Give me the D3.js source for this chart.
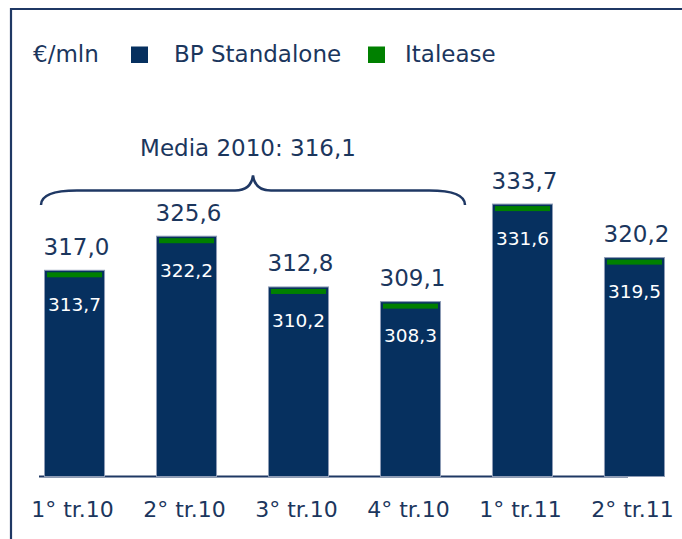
<!DOCTYPE html>
<html>
<head>
  <meta charset='utf-8' />
  <title>BP Standalone vs Italease</title>
  <style>
    html, body { margin: 0; padding: 0; background: #fff; }
    body { font-family: 'DejaVu Sans', Verdana, sans-serif; }
    svg text { fill: #1b365d; }
  </style>
</head>
<body>
<svg id="chart" width="682" height="539"></svg>

<script src="https://d3js.org/d3.v7.min.js"></script>
<script>
  // quarters on the x axis
  const quarters = ['1° tr.10', '2° tr.10', '3° tr.10', '4° tr.10', '1° tr.11', '2° tr.11']
  // total (BP Standalone + Italease), €/mln
  const totals = [317.0, 325.6, 312.8, 309.1, 333.7, 320.2]
  // BP Standalone only
  const standalone = [313.7, 322.2, 310.2, 308.3, 331.6, 319.5]
  const seriesNames = ['BP Standalone', 'Italease']
  const unitLabel = '€/mln'
  const mediaLabel = 'Media 2010'
  const mediaCount = 4 // first four quarters = 2010

  const navy = '#06305f'
  const green = '#008000'
  const ink = '#1b365d'

  const it = d3.formatLocale({ decimal: ',', thousands: '.', grouping: [3], currency: ['€', ''] })
  const fmt = it.format('.1f')

  const rows = quarters.map((q, i) => ({ q, total: totals[i], bp: standalone[i], ita: totals[i] - standalone[i] }))

  const svg = d3.select('#chart')

  // frame (top and left edge only, like the slide)
  svg.append('path')
    .attr('d', 'M11,539 V9 H682')
    .attr('fill', 'none')
    .attr('stroke', '#1f3864')
    .attr('stroke-width', 2.2)

  const baseY = 476
  const x = d3.scaleBand()
    .domain(quarters)
    .range([44, 665])
    .paddingInner(0.455)
    .paddingOuter(0)

  const y = d3.scaleLinear()
    .domain([265, 340])
    .range([baseY, 178.6])

  // baseline
  svg.append('line')
    .attr('x1', 39).attr('x2', 628)
    .attr('y1', baseY + 0.5).attr('y2', baseY + 0.5)
    .attr('stroke', '#1f3864')
    .attr('stroke-width', 2)

  const bw = x.bandwidth()

  const bars = svg.append('g').selectAll('g')
    .data(rows)
    .join('g')

  bars.append('rect')
    .attr('x', d => x(d.q) + 0.5)
    .attr('y', d => y(d.total) + 0.5)
    .attr('width', bw - 1)
    .attr('height', d => baseY - y(d.total))
    .attr('fill', navy)
    .attr('stroke', '#8d9bb5')
    .attr('stroke-width', 1)

  // Italease strip on top of each bar
  bars.append('rect')
    .attr('x', d => x(d.q) + 3)
    .attr('y', d => y(d.total) + 2.5)
    .attr('width', bw - 6)
    .attr('height', 5)
    .attr('fill', green)

  // totals above
  bars.append('text')
    .attr('x', d => x(d.q) + bw / 2 + 2)
    .attr('y', d => y(d.total) - 15)
    .attr('text-anchor', 'middle')
    .style('font-size', '23px')
    .text(d => fmt(d.total))

  // standalone inside
  bars.append('text')
    .attr('x', d => x(d.q) + bw / 2)
    .attr('y', d => y(d.total) + 41)
    .attr('text-anchor', 'middle')
    .style('font-size', '18.5px')
    .style('fill', '#fff')
    .text(d => fmt(d.bp))

  // x labels
  svg.append('g').selectAll('text')
    .data(quarters)
    .join('text')
    .attr('x', d => x(d) + bw / 2 - 2)
    .attr('y', 517)
    .attr('text-anchor', 'middle')
    .style('font-size', '22px')
    .text(d => d)

  // brace over 2010
  const x0 = x(quarters[0]) - 3
  const x1 = x(quarters[mediaCount - 1]) + bw + 24
  const m = (x0 + x1) / 2
  const yEnd = 205, yMid = 190.5, yTip = 175.5
  svg.append('path')
    .attr('d', `M${x0},${yEnd} Q${x0},${yMid} ${x0 + 36},${yMid} L${m - 18},${yMid} Q${m - 2},${yMid} ${m},${yTip}` +
      ` Q${m + 2},${yMid} ${m + 18},${yMid} L${x1 - 36},${yMid} Q${x1},${yMid} ${x1},${yEnd}`)
    .attr('fill', 'none')
    .attr('stroke', '#1f3864')
    .attr('stroke-width', 2.5)

  const media = d3.mean(totals.slice(0, mediaCount))
  svg.append('text')
    .attr('x', m - 5)
    .attr('y', 156)
    .attr('text-anchor', 'middle')
    .style('font-size', '23px')
    .text(`${mediaLabel}: ${fmt(media)}`)

  // legend
  const legend = svg.append('g')
  legend.append('text')
    .attr('x', 33).attr('y', 62)
    .style('font-size', '23px')
    .text(unitLabel)

  const legendItems = [
    { name: seriesNames[0], color: navy, sx: 131, tx: 174 },
    { name: seriesNames[1], color: green, sx: 368, tx: 405 }
  ]
  legend.selectAll('rect')
    .data(legendItems)
    .join('rect')
    .attr('x', d => d.sx).attr('y', 46.5)
    .attr('width', 17).attr('height', 16.5)
    .attr('fill', d => d.color)
  legend.selectAll('text.item')
    .data(legendItems)
    .join('text')
    .attr('class', 'item')
    .attr('x', d => d.tx).attr('y', 62)
    .style('font-size', '23px')
    .text(d => d.name)
</script>
</body>
</html>
